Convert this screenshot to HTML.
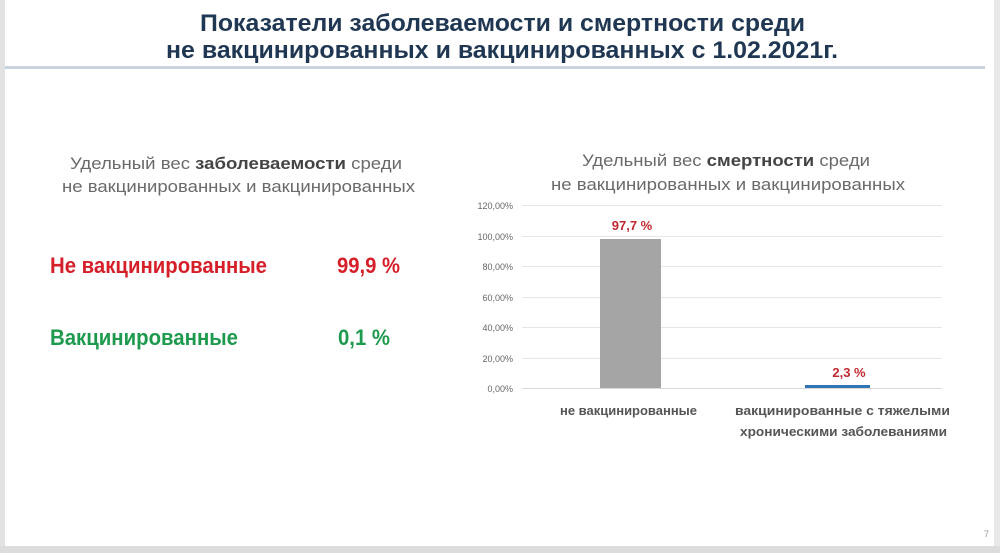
<!DOCTYPE html>
<html><head><meta charset="utf-8"><style>
html,body{margin:0;padding:0;background:#fff}
svg{display:block}
</style></head><body>
<svg width="1000" height="553" viewBox="0 0 1000 553" xmlns="http://www.w3.org/2000/svg" font-family="Liberation Sans, sans-serif">
<rect width="1000" height="553" fill="#fff"/>
<rect x="0" y="0" width="5" height="553" fill="#e2e2e2"/>
<rect x="994" y="0" width="6" height="553" fill="#e8e8e8"/>
<rect x="0" y="546" width="1000" height="7" fill="#dcdcdc"/>
<text x="200" y="31" font-size="24" font-weight="bold" fill="#1f3752" textLength="605" lengthAdjust="spacingAndGlyphs">Показатели заболеваемости и смертности среди</text>
<text x="166" y="58" font-size="24" font-weight="bold" fill="#1f3752" textLength="672" lengthAdjust="spacingAndGlyphs">не вакцинированных и вакцинированных с 1.02.2021г.</text>
<rect x="5" y="66" width="980" height="3" fill="#c9d3e0"/>
<text x="70" y="169" font-size="17" fill="#6a6a6a" textLength="332" lengthAdjust="spacingAndGlyphs">Удельный вес <tspan font-weight="bold" fill="#444">заболеваемости</tspan> среди</text>
<text x="62" y="192" font-size="17" fill="#6a6a6a" textLength="353" lengthAdjust="spacingAndGlyphs">не вакцинированных и вакцинированных</text>
<text x="50" y="273" font-size="22" font-weight="bold" fill="#d5202a" textLength="217" lengthAdjust="spacingAndGlyphs">Не вакцинированные</text>
<text x="337" y="273" font-size="22" font-weight="bold" fill="#d5202a" textLength="63" lengthAdjust="spacingAndGlyphs">99,9 %</text>
<text x="50" y="345" font-size="22" font-weight="bold" fill="#1e9a4e" textLength="188" lengthAdjust="spacingAndGlyphs">Вакцинированные</text>
<text x="338" y="345" font-size="22" font-weight="bold" fill="#1e9a4e" textLength="52" lengthAdjust="spacingAndGlyphs">0,1 %</text>
<text x="582" y="166" font-size="17" fill="#6a6a6a" textLength="288" lengthAdjust="spacingAndGlyphs">Удельный вес <tspan font-weight="bold" fill="#444">смертности</tspan> среди</text>
<text x="551" y="190" font-size="17" fill="#6a6a6a" textLength="354" lengthAdjust="spacingAndGlyphs">не вакцинированных и вакцинированных</text>
<g stroke="#e6e6e6" stroke-width="1">
<line x1="522" x2="942" y1="205.5" y2="205.5"/>
<line x1="522" x2="942" y1="236.5" y2="236.5"/>
<line x1="522" x2="942" y1="266.5" y2="266.5"/>
<line x1="522" x2="942" y1="297.5" y2="297.5"/>
<line x1="522" x2="942" y1="327.5" y2="327.5"/>
<line x1="522" x2="942" y1="358.5" y2="358.5"/>
</g>
<line x1="522" x2="942" y1="388.5" y2="388.5" stroke="#d9d9d9"/>
<g font-size="9" fill="#666" text-anchor="end">
<text x="513" y="209">120,00%</text>
<text x="513" y="240">100,00%</text>
<text x="513" y="270">80,00%</text>
<text x="513" y="301">60,00%</text>
<text x="513" y="331">40,00%</text>
<text x="513" y="362">20,00%</text>
<text x="513" y="392">0,00%</text>
</g>
<rect x="600" y="239" width="61" height="149" fill="#a5a5a5"/>
<rect x="805" y="385" width="65" height="3" fill="#2e75b6"/>
<text x="632" y="230" font-size="13" font-weight="bold" fill="#c0282f" text-anchor="middle">97,7 %</text>
<text x="849" y="377" font-size="13" font-weight="bold" fill="#c0282f" text-anchor="middle">2,3 %</text>
<text x="560" y="415" font-size="13" font-weight="bold" fill="#555" textLength="137" lengthAdjust="spacingAndGlyphs">не вакцинированные</text>
<text x="735" y="415" font-size="13" font-weight="bold" fill="#555" textLength="215" lengthAdjust="spacingAndGlyphs">вакцинированные с тяжелыми</text>
<text x="740" y="436" font-size="13" font-weight="bold" fill="#555" textLength="207" lengthAdjust="spacingAndGlyphs">хроническими заболеваниями</text>
<text x="984" y="537" font-size="9" fill="#999">7</text>
</svg>
</body></html>
